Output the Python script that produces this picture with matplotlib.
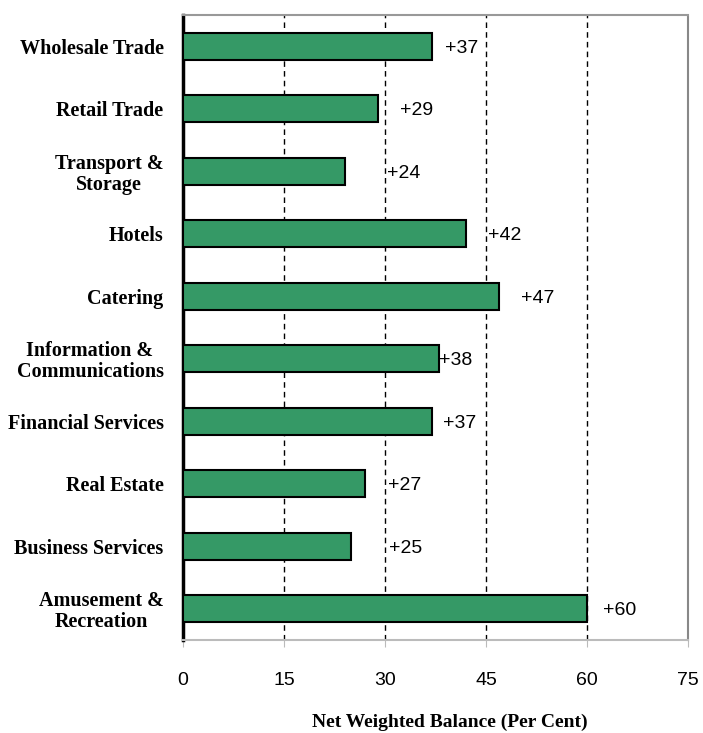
import matplotlib.pyplot as plt
import numpy as np

sectors = ['Wholesale Trade', 'Retail Trade', 'Transport &\nStorage', 'Hotels',
           'Catering', 'Information &\nCommunications', 'Financial Services',
           'Real Estate', 'Business Services', 'Amusement &\nRecreation']
balance = [37, 29, 24, 42, 47, 38, 37, 27, 25, 60]
# gap (pixels) between bar end and its label, as in the original
label_gap = [13, 22, 42, 22, 22, 0, 11, 23, 38, 16]
ticks = [0, 15, 30, 45, 60, 75]


def main():
    fig = plt.figure(figsize=(7.03, 7.33), dpi=100)
    ax = fig.add_axes([183 / 703, 93 / 733, 505 / 703, 625 / 733])

    y = np.arange(len(sectors))[::-1]
    ax.barh(y, balance, height=0.43, color='#359966', edgecolor='black',
            linewidth=1.5, zorder=3)

    for yi, v, g in zip(y, balance, label_gap):
        ax.annotate('+%d' % v, (v, yi), xytext=(g, -2), textcoords='offset pixels',
                    ha='left', va='center', fontsize=14, family='Liberation Sans',
                    zorder=4)

    ax.set_xlim(0, 75)
    ax.set_ylim(-0.504, len(sectors) - 0.496)
    ax.set_xticks(ticks)
    ax.set_xticklabels([str(t) for t in ticks], fontsize=14, family='Liberation Sans')
    ax.tick_params(axis='x', length=5, color='#bbbbbb', pad=18)
    ax.set_yticks(y)
    ax.set_yticklabels(sectors, fontsize=14.5, family='Liberation Serif',
                       fontweight='bold', linespacing=1.05,
                       multialignment='center')
    ax.tick_params(axis='y', length=0, pad=14)

    for t in ticks[1:-1]:
        ax.axvline(t, color='black', linestyle=(0, (4, 3)), linewidth=1, zorder=1)

    ax.spines['left'].set_linewidth(2.5)
    ax.spines['left'].set_color('black')
    ax.spines['bottom'].set_color('#bbbbbb')
    ax.spines['bottom'].set_linewidth(1.5)
    ax.spines['top'].set_color('#999999')
    ax.spines['top'].set_linewidth(1.5)
    ax.spines['right'].set_color('#888888')
    ax.spines['right'].set_linestyle((0, (3, 1)))
    ax.spines['right'].set_linewidth(1.5)

    ax.set_xlabel('Net Weighted Balance (Per Cent)', fontsize=14,
                  family='Liberation Serif', fontweight='bold')
    ax.xaxis.set_label_coords(0.528, -0.118)

    fig.savefig('out.png', dpi=100)


if __name__ == '__main__':
    main()
